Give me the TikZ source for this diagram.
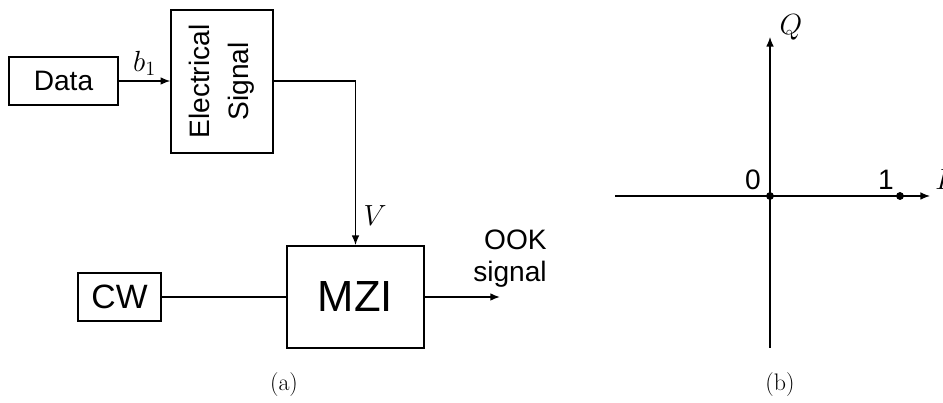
\documentclass[tikz,border=0pt]{standalone}
\usepackage{fontspec}
\newfontfamily\arial{Liberation Sans}
\usetikzlibrary{arrows.meta}

\tikzset{
  blk/.style={draw, line width=1.1pt, inner sep=0pt},
  sans/.style={font=\arial\fontsize{20}{28}\selectfont},
  mathlbl/.style={font=\fontsize{20.74}{25}\selectfont},
  arr/.style={-{Latex[length=2.4mm,width=1.9mm]}, line width=0.9pt}
}

\begin{document}
\begin{tikzpicture}

\useasboundingbox (0,0) rectangle (23.575,10.075);

% The transmitter
\node[blk, sans, minimum width=2.725cm, minimum height=1.2cm] (data) at (1.5875,8.05) {Data};
\node[blk, sans, minimum width=2.55cm, minimum height=3.575cm] (elec) at (5.55,8.0375) {};
\node[sans, rotate=90, align=center] (electxt) at (elec.center) {Electrical\\Signal};
\node[blk, line width=1.4pt, font=\arial\fontsize{31}{36}\selectfont, minimum width=3.425cm, minimum height=2.55cm] (mzi) at (8.8875,2.65) {MZI};
\node[blk, font=\arial\fontsize{24}{28}\selectfont, minimum width=2.075cm, minimum height=1.2cm] (cw) at (2.9875,2.65) {CW};
\coordinate (out) at (12.5,2.65);
\node[sans, align=right, anchor=east, inner sep=0pt, font=\arial\fontsize{20}{22.7}\selectfont] (ook) at (13.675,3.6) {OOK\\signal};

% Connections
\draw[arr] (data.east) -- (data.east -| elec.west) node[midway, above, mathlbl] (b1) {$b_1$};
\draw[arr] (elec.east |- data.east) -| (mzi.north);
\draw[line width=1.2pt] (cw.east) -- (mzi.west);
\draw[arr, line width=1.1pt] (mzi.east) -- (out);
\node[mathlbl] (vlbl) at (9.375,4.675) {$V$};

% The constellation
\coordinate (orig) at (19.25,5.175);
\draw[arr] (15.375,5.175) -- (23.25,5.175);
\draw[arr] (19.25,1.375) -- (19.25,9.15);
\filldraw (orig) circle (0.09);
\filldraw (22.5,5.175) circle (0.09);
\node[sans] (zero) at (18.825,5.575) {0};
\node[sans] (one) at (22.15,5.575) {1};
\node[mathlbl] (qlbl) at (19.775,9.4) {$Q$};
\node[mathlbl, anchor=west, inner sep=0pt] (ilbl) at (23.375,5.575) {$I$};

% Captions
\node[font=\fontsize{17}{20}\selectfont] (capa) at (7.1,0.45) {(a)};
\node[font=\fontsize{17}{20}\selectfont] (capb) at (19.5,0.45) {(b)};

\end{tikzpicture}
\end{document}
